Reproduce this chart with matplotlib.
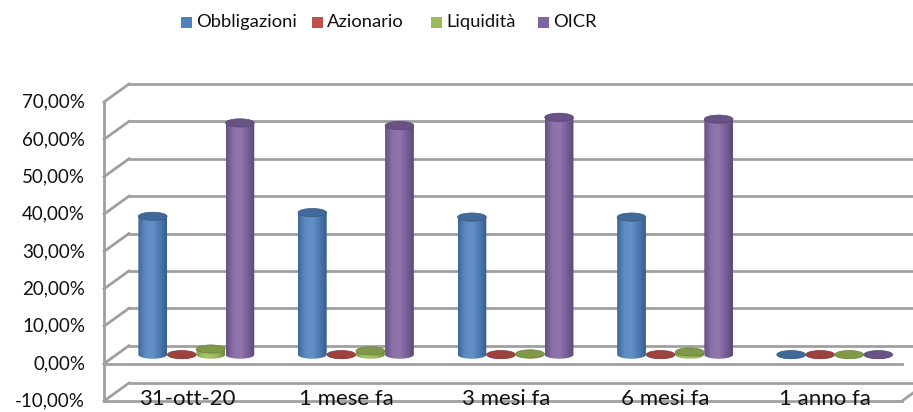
import numpy as np
import matplotlib
matplotlib.use("Agg")
import matplotlib.pyplot as plt
from matplotlib.patches import Ellipse, PathPatch, Rectangle
from matplotlib.path import Path
from matplotlib.colors import LinearSegmentedColormap, to_rgb
from matplotlib.transforms import ScaledTranslation

plt.rcParams["font.family"] = ["Lato", "DejaVu Sans"]

categories = ["31-ott-20", "1 mese fa", "3 mesi fa", "6 mesi fa", "1 anno fa"]
series = ["Obbligazioni", "Azionario", "Liquidità", "OICR"]
obbligazioni = [37.0, 38.0, 36.8, 36.8, 0.0]
azionario = [0.0, 0.0, 0.0, 0.0, 0.0]
liquidita = [1.5, 1.0, 0.2, 0.7, 0.0]
oicr = [62.0, 61.3, 63.5, 63.0, 0.0]
values = [obbligazioni, azionario, liquidita, oicr]
colors = ["#4F81BD", "#C0504D", "#9BBB59", "#8064A2"]
yticks = list(range(-10, 80, 10))

W, H = 913, 412
fig = plt.figure(figsize=(W / 100, H / 100), dpi=100)
ax = fig.add_axes([104 / W, (H - 401) / H, 798 / W, 299 / H])
ax.set_xlim(-0.5, 4.5)
ax.set_ylim(-10, 70)
ax.axis("off")

dx, dy = 25, 18  # depth offset in pixels


def shifted(f):
    return ax.transData + ScaledTranslation(dx * f / 100, dy * f / 100, fig.dpi_scale_trans)


back = shifted(1.0)
mid = shifted(0.5)
gc = "#a0a0a0"
lw = 2.0


def diag(x, y, z=1):
    p0 = ax.transData.transform((x, y))
    p1 = back.transform((x, y))
    fig.add_artist(plt.Line2D([p0[0] / W, p1[0] / W], [p0[1] / H, p1[1] / H],
                              color=gc, lw=lw, zorder=z))


# back wall gridlines + left wall diagonals
for y in yticks:
    ax.plot([-0.5, 5.0], [y, y], color=gc, lw=lw, transform=back, zorder=1, clip_on=False)
    diag(-0.5, y)
# front edges
ax.plot([-0.5, -0.5], [-10, 70], color=gc, lw=lw, zorder=2, clip_on=False)
ax.plot([-0.5, 4.5], [0, 0], color=gc, lw=lw, zorder=2, clip_on=False)
ax.plot([-0.5, 4.5], [-10, -10], color=gc, lw=lw, zorder=2, clip_on=False)
diag(4.5, -10, 2)


def shade(c, f):
    r = np.array(to_rgb(c))
    if f < 1:
        return tuple(r * f)
    return tuple(r + (1 - r) * (f - 1))


bw = 0.18
step = 0.182
eh = 1.1  # half height of the ellipses in data units
t = np.linspace(0, np.pi, 40)

for s, (vals, col) in enumerate(zip(values, colors)):
    cmap = LinearSegmentedColormap.from_list(
        "c%d" % s,
        [shade(col, 0.8), shade(col, 1.08), shade(col, 1.12), shade(col, 0.95), shade(col, 0.72)],
    )
    grad = np.linspace(0, 1, 64).reshape(1, -1)
    for i, v in enumerate(vals):
        c = i + (s - 1.5) * step
        x0, x1 = c - bw / 2, c + bw / 2
        xs = c + (bw / 2) * np.cos(t)
        ys = -eh * np.sin(t)
        verts = [(x0, v), (x1, v)] + list(zip(xs, ys)) + [(x0, v)]
        body = PathPatch(Path(verts), transform=mid, facecolor="none", edgecolor="none")
        ax.add_patch(body)
        im = ax.imshow(grad, cmap=cmap, aspect="auto", extent=[x0, x1, -eh - 1, v + 1],
                       transform=mid, interpolation="bilinear", zorder=3)
        im.set_clip_path(body)
        top = Ellipse((c, v), bw, 2 * eh, transform=mid, facecolor=shade(col, 0.82),
                      edgecolor=shade(col, 0.7), lw=0.5, zorder=4)
        ax.add_patch(top)

ax.set_xlim(-0.5, 4.5)
ax.set_ylim(-10, 70)

# y tick labels
for y in yticks:
    ax.text(-0.5, y, ("%.2f%%" % y).replace(".", ","), ha="right", va="center",
            fontsize=13.5, color="#111111",
            transform=ax.transData + ScaledTranslation(-19 / 100, 0, fig.dpi_scale_trans))
# category labels
for i, lab in enumerate(categories):
    ax.text(i, -10, lab, ha="center", va="center", fontsize=16, color="#111111",
            transform=ax.transData + ScaledTranslation(3 / 100, 2 / 100, fig.dpi_scale_trans),
            zorder=5)

# legend
leg_x = [181, 312, 431, 538]
for name, col, lx in zip(series, colors, leg_x):
    fig.add_artist(Rectangle((lx / W, (H - 28) / H), 11 / W, 11 / H, facecolor=col,
                             edgecolor="none", transform=fig.transFigure))
    fig.text((lx + 15) / W, (H - 22) / H, name, ha="left", va="center", fontsize=13.2,
             color="#111111")

fig.savefig("out.png", dpi=100)
